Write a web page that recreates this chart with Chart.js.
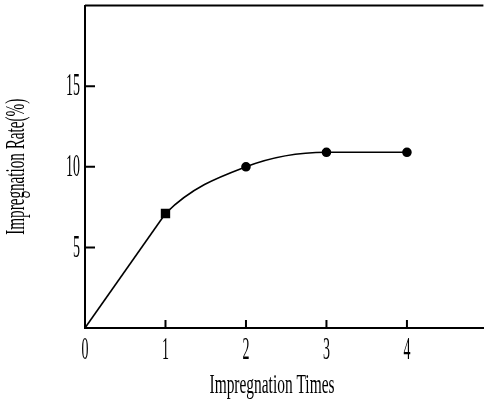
<!DOCTYPE html>
<html>
<head>
<meta charset="utf-8">
<script src="https://cdn.jsdelivr.net/npm/chart.js@4"></script>
<style>
  body { margin: 0; background: #fff; }
</style>
</head>
<body>
<canvas id="myChart" width="489" height="405"></canvas>
<script>
// data
const times = [0, 1, 2, 3, 4];
const rates = [0, 7.1, 10, 10.9, 10.9];
const xTicks = [0, 1, 2, 3, 4];
const yTicks = [5, 10, 15];
const xTitle = "Impregnation Times";
const yTitle = "Impregnation Rate(%)";

const points = times.map((t, i) => ({ x: t, y: rates[i] }));

// narrow text like the scanned figure
function squeeze(ctx, text, x, y, sx, align) {
  ctx.save();
  ctx.translate(x, y);
  ctx.scale(sx, 1);
  ctx.textAlign = align;
  ctx.textBaseline = "middle";
  ctx.fillText(text, 0, 0);
  ctx.restore();
}

const axisDecor = {
  id: "axisDecor",
  afterDraw(chart) {
    const ctx = chart.ctx;
    const area = chart.chartArea;
    const xs = chart.scales.x;
    const ys = chart.scales.y;
    ctx.save();
    ctx.strokeStyle = "#000";
    ctx.fillStyle = "#000";
    ctx.lineWidth = 2;

    // top frame line
    ctx.beginPath();
    ctx.moveTo(area.left, area.top);
    ctx.lineTo(area.right, area.top);
    ctx.stroke();

    // inward ticks
    ctx.beginPath();
    xTicks.forEach((v) => {
      if (v == 0) return;
      let px = xs.getPixelForValue(v);
      ctx.moveTo(px, area.bottom);
      ctx.lineTo(px, area.bottom - 8);
    });
    yTicks.forEach((v) => {
      let py = ys.getPixelForValue(v);
      ctx.moveTo(area.left, py);
      ctx.lineTo(area.left + 10, py);
    });
    ctx.stroke();

    // tick labels
    ctx.font = "31px 'Liberation Serif'";
    xTicks.forEach((v) => {
      squeeze(ctx, String(v), xs.getPixelForValue(v), 351, 0.45, "center");
    });
    yTicks.forEach((v) => {
      squeeze(ctx, String(v), 80, ys.getPixelForValue(v) + 1, 0.45, "right");
    });

    // axis titles
    ctx.font = "28px 'Liberation Serif'";
    let w = ctx.measureText(xTitle).width;
    squeeze(ctx, xTitle, 272, 386, 125 / w, "center");
    w = ctx.measureText(yTitle).width;
    ctx.save();
    ctx.translate(17, (area.top + area.bottom) / 2);
    ctx.rotate(-Math.PI / 2);
    squeeze(ctx, yTitle, 0, 0, 136 / w, "center");
    ctx.restore();

    ctx.restore();
  },
};

const hideAfterFirst = (c) => (c.p0DataIndex == 0 ? "#000" : "rgba(0,0,0,0)");
const hideFirst = (c) => (c.p0DataIndex == 0 ? "rgba(0,0,0,0)" : "#000");

const ctx = document.getElementById("myChart").getContext("2d");
const chart = new Chart(ctx, {
  type: "line",
  data: {
    datasets: [
      {
        // straight start + markers
        data: points,
        borderColor: "#000",
        backgroundColor: "#000",
        borderWidth: 1.6,
        tension: 0,
        segment: { borderColor: hideAfterFirst },
        pointStyle: ["circle", "rect", "circle", "circle", "circle"],
        pointRadius: [0, 5.5, 4, 4, 4],
        pointHoverRadius: [0, 5.5, 4, 4, 4],
        fill: false,
        order: 0,
      },
      {
        // smooth part
        data: points,
        borderColor: "#000",
        borderWidth: 1.6,
        cubicInterpolationMode: "monotone",
        segment: { borderColor: hideFirst },
        pointRadius: 0,
        pointHoverRadius: 0,
        fill: false,
        order: 1,
      },
    ],
  },
  options: {
    responsive: false,
    devicePixelRatio: 1,
    animation: false,
    layout: {
      padding: { left: 85, top: 4, right: 0, bottom: 77 },
    },
    plugins: {
      legend: { display: false },
      tooltip: { enabled: false },
    },
    scales: {
      x: {
        type: "linear",
        min: 0,
        max: 4.95,
        ticks: { display: false },
        grid: { display: false },
        border: { color: "#000", width: 2 },
        afterFit: (s) => {
          s.height = 0;
        },
      },
      y: {
        min: 0,
        max: 20,
        ticks: { display: false },
        grid: { display: false },
        border: { color: "#000", width: 2 },
        afterFit: (s) => {
          s.width = 0;
        },
      },
    },
  },
  plugins: [axisDecor],
});
</script>
</body>
</html>
